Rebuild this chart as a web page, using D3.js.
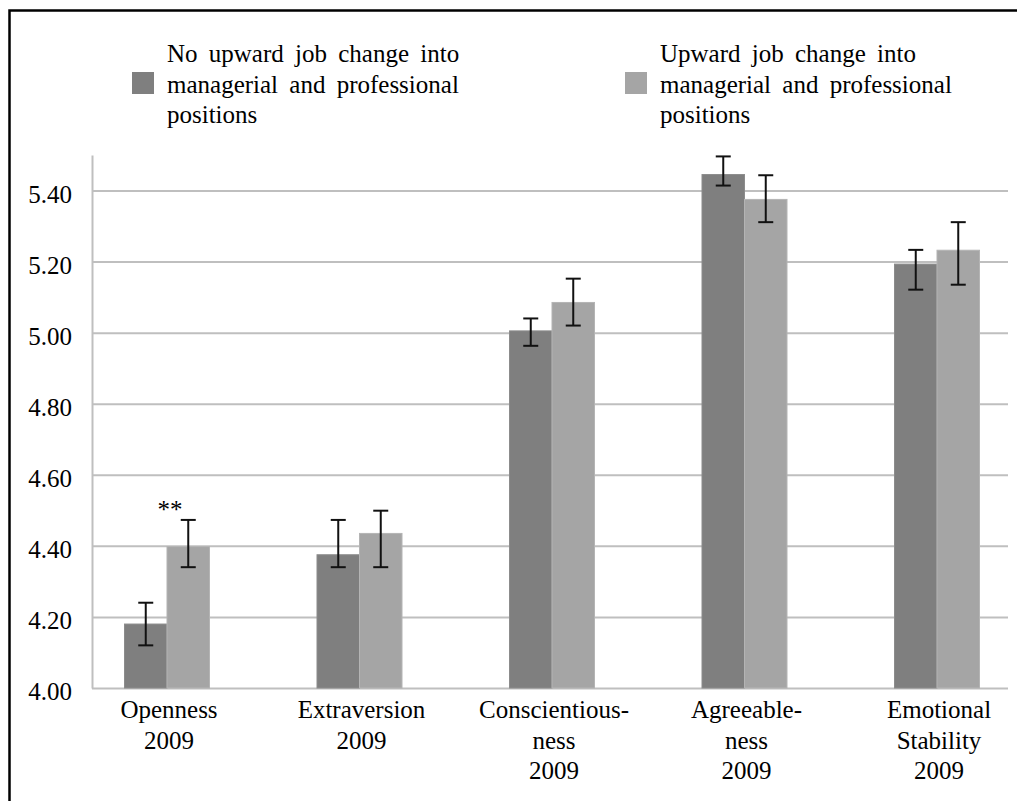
<!DOCTYPE html>
<html>
<head>
<meta charset="utf-8">
<script src="https://cdn.jsdelivr.net/npm/d3@7"></script>
<style>
  body { margin: 0; background: #fff; }
  svg { display: block; }
  svg text { font-family: 'Liberation Serif', 'Times New Roman', serif !important; }
</style>
</head>
<body>
<svg id="chart" width="1017" height="801"></svg>
<script>
// categories, two lines or three lines each under the axis
var categories = ["Openness", "Extraversion", "Conscientiousness", "Agreeableness", "Emotional Stability"];
var categoryLines = [
  ["Openness", "2009"],
  ["Extraversion", "2009"],
  ["Conscientious-", "ness", "2009"],
  ["Agreeable-", "ness", "2009"],
  ["Emotional", "Stability", "2009"]
];

// means and error bar ends
var noUpward = [4.18, 4.375, 5.005, 5.445, 5.193];
var noUpwardLo = [4.12, 4.34, 4.963, 5.414, 5.121];
var noUpwardHi = [4.24, 4.473, 5.04, 5.496, 5.233];

var upward = [4.398, 4.435, 5.085, 5.375, 5.232];
var upwardLo = [4.34, 4.34, 5.02, 5.311, 5.135];
var upwardHi = [4.473, 4.499, 5.152, 5.443, 5.311];

var yTicks = [4.0, 4.2, 4.4, 4.6, 4.8, 5.0, 5.2, 5.4];
var seriesNames = [
  ["No upward job change into", "managerial and professional", "positions"],
  ["Upward job change into", "managerial and professional", "positions"]
];
var seriesColors = ["#7f7f7f", "#a5a5a5"];
var marks = [{cat: "Openness", text: "**"}];

var svg = d3.select("#chart");

// frame (only top and left edges are in the picture)
svg.append("path")
  .attr("d", "M9.5,801V10.5H1017")
  .attr("fill", "none")
  .attr("stroke", "#000")
  .attr("stroke-width", 2.5);

var plotLeft = 92, plotRight = 1008;

var y = d3.scaleLinear().domain([4, 5.5]).range([688, 155]);
var x = d3.scalePoint().domain(categories).range([167, 937]);
var barW = 42.5;

// y axis with gridlines
var yAxis = svg.append("g")
  .attr("transform", "translate(" + plotLeft + ",0)")
  .call(d3.axisLeft(y)
    .tickValues(yTicks)
    .tickFormat(d3.format(".2f"))
    .tickSize(-(plotRight - plotLeft))
    .tickSizeOuter(0)
    .tickPadding(20));

yAxis.attr("font-family", null);
yAxis.select(".domain").attr("stroke", "#bfbfbf").attr("stroke-width", 2);
yAxis.selectAll(".tick line").attr("stroke", "#bfbfbf").attr("stroke-width", 2);
yAxis.selectAll(".tick text")
  .attr("fill", "#000")
  .attr("font-size", 25)
  .attr("dy", "0.46em");

// bars
var rows = categories.map(function(c, i) {
  return [
    {cat: c, v: noUpward[i], lo: noUpwardLo[i], hi: noUpwardHi[i], s: 0},
    {cat: c, v: upward[i], lo: upwardLo[i], hi: upwardHi[i], s: 1}
  ];
});
var flat = [].concat.apply([], rows);

svg.append("g").selectAll("rect")
  .data(flat)
  .enter().append("rect")
  .attr("x", function(d) { return x(d.cat) + (d.s - 1) * barW; })
  .attr("width", barW)
  .attr("y", function(d) { return y(d.v); })
  .attr("height", function(d) { return y(4) - y(d.v); })
  .attr("fill", function(d) { return seriesColors[d.s]; })
  .attr("stroke", function(d) { return d.s ? "#b4b4b4" : "#8c8c8c"; })
  .attr("stroke-width", 1);

// error bars
var err = svg.append("g").selectAll("g")
  .data(flat)
  .enter().append("g")
  .attr("stroke", "#111")
  .attr("stroke-width", 2);

err.append("line")
  .attr("x1", function(d) { return x(d.cat) + (d.s - 0.5) * barW; })
  .attr("x2", function(d) { return x(d.cat) + (d.s - 0.5) * barW; })
  .attr("y1", function(d) { return y(d.lo); })
  .attr("y2", function(d) { return y(d.hi); });

["lo", "hi"].forEach(function(k) {
  err.append("line")
    .attr("x1", function(d) { return x(d.cat) + (d.s - 0.5) * barW - 7.5; })
    .attr("x2", function(d) { return x(d.cat) + (d.s - 0.5) * barW + 7.5; })
    .attr("y1", function(d) { return y(d[k]); })
    .attr("y2", function(d) { return y(d[k]); });
});

// significance mark
svg.append("g").selectAll("text")
  .data(marks)
  .enter().append("text")
  .attr("x", function(d) { return x(d.cat) + 3; })
  .attr("y", 518)
  .attr("text-anchor", "middle")
  .attr("font-size", 25)
  .text(function(d) { return d.text; });

// category labels
var xLabels = svg.append("g").selectAll("text")
  .data(categories)
  .enter().append("text")
  .attr("text-anchor", "middle")
  .attr("font-size", 25)
  .attr("fill", "#000");

xLabels.selectAll("tspan")
  .data(function(d, i) { return categoryLines[i]; })
  .enter().append("tspan")
  .attr("x", function() { return x(d3.select(this.parentNode).datum()) + 2; })
  .attr("y", function(d, j) { return 718 + j * 30.5; })
  .text(function(d) { return d; });

// legend
var legendX = [132, 625];
var legend = svg.append("g").selectAll("g")
  .data(seriesNames)
  .enter().append("g")
  .attr("transform", function(d, i) { return "translate(" + legendX[i] + ",0)"; });

legend.append("rect")
  .attr("x", 0)
  .attr("y", 72)
  .attr("width", 22)
  .attr("height", 22)
  .attr("fill", function(d, i) { return seriesColors[i]; });

legend.append("text")
  .attr("font-size", 25)
  .attr("fill", "#000")
  .style("word-spacing", "5px")
  .selectAll("tspan")
  .data(function(d) { return d; })
  .enter().append("tspan")
  .attr("x", 35)
  .attr("y", function(d, j) { return 62 + j * 30.5; })
  .text(function(d) { return d; });
</script>
</body>
</html>
